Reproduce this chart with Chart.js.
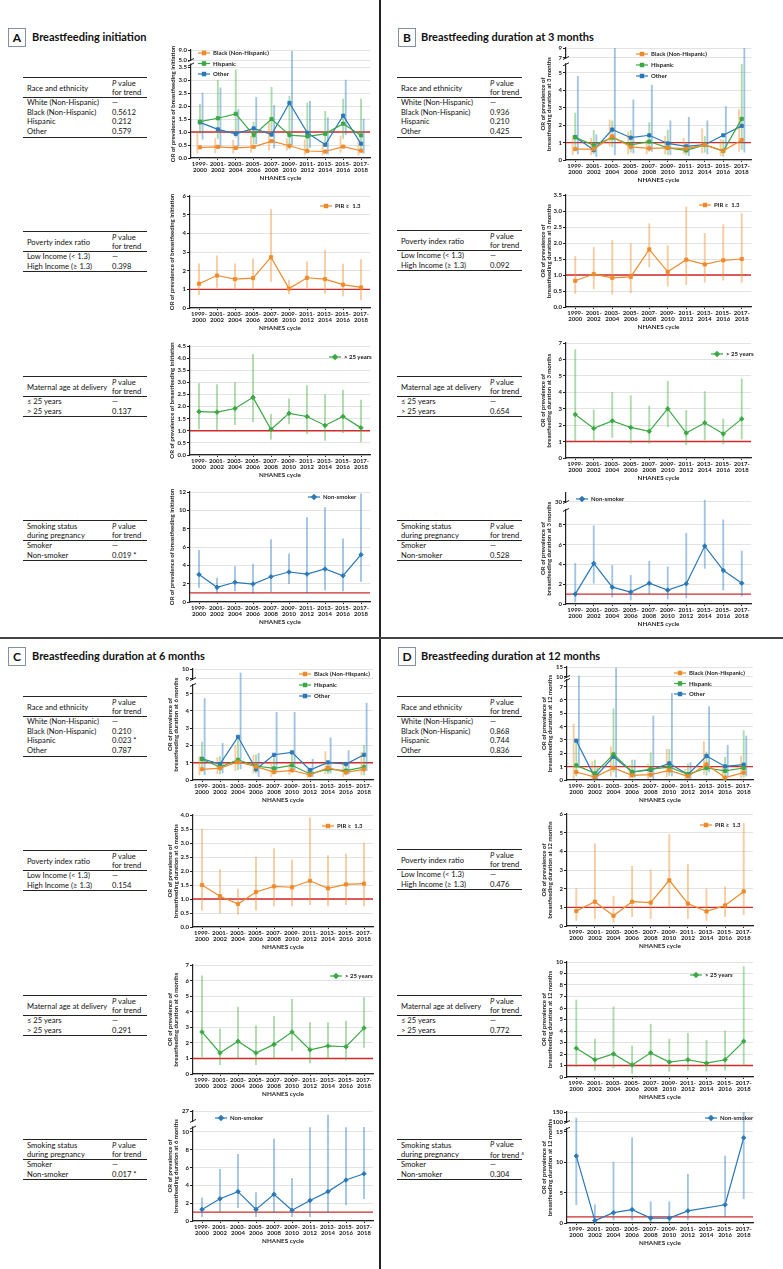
<!DOCTYPE html>
<html>
<head>
<meta charset="utf-8">
<script src="https://cdn.jsdelivr.net/npm/chart.js@4.4.1/dist/chart.umd.min.js"></script>
<style>
body{margin:0;background:#fff;width:783px;height:1269px;position:relative;overflow:hidden;font-family:Lato,"Open Sans",sans-serif;color:#111}
canvas{position:absolute}
.box{position:absolute;width:16px;height:17px;border:1.5px solid #8391a8;font-weight:bold;font-size:12px;line-height:17px;text-align:center}
.ttl{position:absolute;font-weight:bold;font-size:11px;line-height:14px;white-space:nowrap}
.vline{position:absolute;left:379px;top:0;width:2px;height:1269px;background:#222}
.hline{position:absolute;left:0;top:637px;width:783px;height:2px;background:#444}
.tbl{position:absolute;border-top:1.5px solid #222;border-bottom:1.5px solid #222;font-size:7.6px;line-height:9.7px;white-space:nowrap}
.hd{position:relative;height:19px;border-bottom:1px solid #222}
.hd div{position:absolute;top:50%;transform:translateY(-50%);line-height:9px}
.rw{position:relative;height:9.7px}
.rw span{position:absolute;top:0}
</style>
</head>
<body>
<div class="vline"></div>
<div class="hline"></div>
<script>
const cycles = [['1999-','2000'],['2001-','2002'],['2003-','2004'],['2005-','2006'],['2007-','2008'],
  ['2009-','2010'],['2011-','2012'],['2013-','2014'],['2015-','2016'],['2017-','2018']];

// tables
const raceRows = ['White (Non-Hispanic)','Black (Non-Hispanic)','Hispanic','Other'];
const pirRows = ['Low Income (< 1.3)','High Income (≥ 1.3)'];
const ageRows = ['≤ 25 years','> 25 years'];
const smokeRows = ['Smoker','Non-smoker'];
const aRaceP = ['—','0.5612','0.212','0.579'], aPirP = ['—','0.398'], aAgeP = ['—','0.137'], aSmokeP = ['—','0.019 *'];
const bRaceP = ['—','0.936','0.210','0.425'], bPirP = ['—','0.092'], bAgeP = ['—','0.654'], bSmokeP = ['—','0.528'];
const cRaceP = ['—','0.210','0.023 *','0.787'], cPirP = ['—','0.154'], cAgeP = ['—','0.291'], cSmokeP = ['—','0.017 *'];
const dRaceP = ['—','0.868','0.744','0.836'], dPirP = ['—','0.476'], dAgeP = ['—','0.772'], dSmokeP = ['—','0.304'];

// A: breastfeeding initiation
const aBlack = [0.41,0.43,0.39,0.43,0.65,0.47,0.27,0.25,0.44,0.28];
const aBlackCI = [[0.18,0.95],[0.2,0.75],[0.2,0.68],[0.22,0.82],[0.3,1.4],[0.3,0.75],[0.12,0.7],[0.12,0.52],[0.22,0.85],[0.1,0.75]];
const aHisp = [1.40,1.53,1.70,0.88,1.50,0.88,0.83,0.93,1.32,0.87];
const aHispCI = [[0.95,2.07],[0.75,3.0],[0.8,3.4],[0.55,1.38],[0.85,2.72],[0.35,2.38],[0.35,2.12],[0.45,1.8],[0.75,2.27],[0.35,2.27]];
const aOther = [1.37,1.10,0.93,1.14,0.90,2.12,0.97,0.51,1.63,0.55];
const aOtherCI = [[0.72,2.5],[0.45,2.7],[0.45,1.87],[0.55,2.33],[0.38,2.02],[0.5,8.5],[0.4,2.18],[0.15,1.55],[0.9,3.0],[0.18,1.5]];
const aPir = [1.30,1.74,1.55,1.60,2.72,1.04,1.62,1.55,1.25,1.10];
const aPirCI = [[0.72,2.36],[1.1,2.79],[1.0,2.36],[1.0,2.63],[1.42,5.27],[0.75,1.5],[1.1,2.47],[0.78,3.1],[0.65,2.35],[0.45,2.6]];
const aAge = [1.79,1.77,1.92,2.38,1.05,1.72,1.59,1.22,1.59,1.12];
const aAgeCI = [[1.08,2.95],[1.05,2.91],[1.25,3.0],[1.37,4.16],[0.65,1.68],[1.28,2.32],[0.88,2.87],[0.6,2.48],[0.92,2.68],[0.55,2.27]];
const aSmk = [3.0,1.6,2.15,1.96,2.76,3.27,3.05,3.6,2.87,5.16];
const aSmkCI = [[1.6,5.65],[0.95,2.6],[1.2,3.87],[0.9,4.1],[1.1,6.8],[2.0,5.25],[1.0,9.2],[1.3,10.3],[1.2,6.9],[2.25,11.8]];

// B: duration at 3 months
const bBlack = [0.63,0.63,1.35,0.75,0.67,0.7,0.65,0.87,0.53,1.15];
const bBlackCI = [[0.3,1.4],[0.3,1.25],[0.8,2.3],[0.35,1.6],[0.35,1.15],[0.35,1.35],[0.35,1.25],[0.4,1.8],[0.25,1.2],[0.5,2.9]];
const bHisp = [1.3,0.85,1.28,0.87,1.06,0.7,0.55,0.87,0.52,2.36];
const bHispCI = [[0.6,2.7],[0.35,1.7],[0.75,2.25],[0.45,1.7],[0.5,2.15],[0.3,1.72],[0.3,1.0],[0.45,1.35],[0.2,1.15],[0.6,5.5]];
const bOther = [1.32,0.57,1.75,1.28,1.42,0.95,0.78,0.88,1.42,1.96];
const bOtherCI = [[0.35,4.8],[0.2,1.45],[0.3,9],[0.4,3.45],[0.5,4.3],[0.3,2.25],[0.25,2.45],[0.35,2.25],[0.6,3.07],[0.45,9]];
const bPir = [0.82,1.03,0.91,0.94,1.8,1.1,1.48,1.33,1.46,1.5];
const bPirCI = [[0.42,1.58],[0.57,1.86],[0.4,2.08],[0.44,1.98],[1.25,2.6],[0.65,1.92],[0.7,3.13],[0.77,2.3],[0.84,2.57],[0.77,2.92]];
const bAge = [2.65,1.8,2.26,1.86,1.62,3.0,1.52,2.14,1.47,2.38];
const bAgeCI = [[1.05,6.6],[1.0,2.93],[1.25,4.0],[0.9,3.8],[0.9,3.16],[1.9,4.67],[0.8,2.9],[1.1,4.04],[0.85,2.38],[1.15,4.83]];
const bSmk = [1.0,4.1,1.7,1.2,2.1,1.4,2.05,5.85,3.4,2.1];
const bSmkCI = [[0.2,4.1],[2.1,7.9],[0.7,3.9],[0.4,2.9],[1.0,4.3],[0.5,3.75],[0.6,7.15],[3.6,30.2],[1.4,8.5],[0.8,5.35]];

// C: duration at 6 months
const cBlack = [0.62,0.69,1.04,0.77,0.46,0.56,0.29,0.71,0.44,0.62];
const cBlackCI = [[0.3,1.35],[0.35,1.3],[0.55,2.0],[0.4,1.45],[0.2,1.0],[0.3,0.95],[0.15,0.6],[0.35,1.65],[0.2,0.95],[0.3,1.6]];
const cHisp = [1.2,0.75,1.17,0.81,0.67,0.85,0.35,0.63,0.54,0.75];
const cHispCI = [[0.55,2.2],[0.35,1.35],[0.6,2.4],[0.4,1.45],[0.35,1.4],[0.45,1.6],[0.2,0.65],[0.35,1.1],[0.3,0.95],[0.3,2.0]];
const cOther = [1.23,0.92,2.5,0.62,1.46,1.6,0.58,1.02,0.92,1.46];
const cOtherCI = [[0.3,4.72],[0.4,2.12],[0.65,9.6],[0.2,1.55],[0.5,3.92],[0.6,3.92],[0.2,1.2],[0.4,2.45],[0.35,1.7],[0.55,4.45]];
const cPir = [1.5,1.1,0.82,1.25,1.45,1.42,1.65,1.38,1.52,1.55];
const cPirCI = [[0.6,3.5],[0.5,2.05],[0.45,1.35],[0.6,2.5],[0.75,2.8],[0.75,2.4],[0.8,3.9],[0.75,2.55],[0.8,2.6],[0.75,3.0]];
const cAge = [2.7,1.35,2.1,1.35,1.9,2.7,1.55,1.8,1.75,2.95];
const cAgeCI = [[1.1,6.3],[0.6,2.9],[1.0,4.3],[0.6,3.1],[1.0,3.7],[1.5,4.8],[0.7,3.3],[1.0,3.3],[0.9,3.4],[1.7,4.9]];
const cSmk = [1.3,2.5,3.3,1.3,3.0,1.2,2.3,3.3,4.6,5.3];
const cSmkCI = [[0.5,2.6],[1.0,5.8],[1.5,7.5],[0.5,3.2],[1.0,9.2],[0.5,4.8],[0.5,10.5],[1.0,26.6],[1.8,10.5],[2.5,10.8]];

// D: duration at 12 months
const dBlack = [0.6,0.22,0.9,0.35,0.4,0.72,0.28,1.17,0.18,0.55];
const dBlackCI = [[0.1,4.2],[0.05,1.4],[0.3,2.5],[0.1,1.1],[0.1,1.2],[0.2,2.3],[0.1,0.8],[0.45,2.9],[0.05,1.0],[0.15,1.8]];
const dHisp = [1.1,0.5,1.92,0.6,0.82,0.97,0.42,0.9,0.68,0.9];
const dHispCI = [[0.3,3.0],[0.15,1.5],[0.6,5.35],[0.2,1.5],[0.2,2.05],[0.35,2.3],[0.15,1.2],[0.35,2.1],[0.2,1.7],[0.2,3.7]];
const dOther = [2.95,0.2,1.75,0.6,0.75,1.25,0.42,1.8,1.02,1.15];
const dOtherCI = [[0.9,10.5],[0.05,0.9],[0.2,14.5],[0.2,1.5],[0.1,4.8],[0.3,6.5],[0.1,1.3],[0.6,5.5],[0.3,2.6],[0.3,3.3]];
const dPir = [0.8,1.3,0.55,1.3,1.25,2.45,1.2,0.78,1.1,1.85];
const dPirCI = [[0.3,2.0],[0.4,4.4],[0.2,1.6],[0.5,3.2],[0.4,3.0],[1.0,4.9],[0.4,3.3],[0.3,2.0],[0.5,2.1],[0.6,5.5]];
const dAge = [2.5,1.5,2.0,1.05,2.1,1.3,1.5,1.2,1.5,3.1];
const dAgeCI = [[0.9,6.7],[0.6,3.3],[0.8,6.1],[0.3,2.7],[0.9,4.6],[0.5,3.3],[0.6,3.8],[0.5,3.2],[0.6,4.0],[1.0,9.6]];
const dSmk = [11,0.4,1.7,2.2,0.8,0.8,2.0,null,3.0,14];
const dSmkCI = [[3,120],[0.1,3],[0.5,10],[0.5,14],[0.2,3.5],[0.2,3.5],[0.5,8],null,[1.0,11],[4,150]];

// y ticks
const steps = (a, b, s) => { const r = []; for (let v = a; v <= b + 1e-9; v += s) r.push(+v.toFixed(2)); return r; };

const FF = 'Lato, "Open Sans", sans-serif';
const ORANGE = '#ef8a2a', GREEN = '#3aa843', BLUE = '#2a78b8';
const ORANGE_E = 'rgba(240,140,45,0.45)', GREEN_E = 'rgba(70,175,70,0.45)', BLUE_E = 'rgba(45,125,190,0.45)';

const specs = new WeakMap();

class BrokenScale extends Chart.LinearScale {
  buildTicks() {
    const sp = specs.get(this.chart.canvas);
    this.start = this.min; this.end = this.max;
    return sp.ticks.map(v => ({ value: v }));
  }
  getPixelForValue(v) {
    const b = specs.get(this.chart.canvas).brk;
    let f;
    if (!b) f = (v - this.min) / (this.max - this.min);
    else if (v <= b.lo) f = (v - this.min) / (b.lo - this.min) * b.frac;
    else if (v >= b.hi) f = b.frac + b.gap + (v - b.hi) / (this.max - b.hi) * (1 - b.frac - b.gap);
    else f = b.frac + (v - b.lo) / (b.hi - b.lo) * b.gap;
    return this.getPixelForDecimal(f);
  }
  getValueForPixel(p) {
    return this.min + this.getDecimalForPixel(p) * (this.max - this.min);
  }
}
BrokenScale.id = 'broken';
BrokenScale.defaults = {};
Chart.register(BrokenScale);

const refLine = {
  id: 'refLine',
  beforeDatasetsDraw(chart) {
    const { ctx, chartArea: a } = chart;
    const y = chart.scales.y.getPixelForValue(1);
    ctx.save();
    ctx.strokeStyle = '#d22a2a'; ctx.lineWidth = 1.4;
    ctx.beginPath(); ctx.moveTo(a.left, y); ctx.lineTo(a.right, y); ctx.stroke();
    ctx.restore();
  }
};

const axisBreak = {
  id: 'axisBreak',
  afterDraw(chart) {
    const sp = specs.get(chart.canvas);
    if (!sp.brk) return;
    const { ctx } = chart;
    const x = chart.chartArea.left;
    const p1 = chart.scales.y.getPixelForValue(sp.brk.lo);
    const p2 = chart.scales.y.getPixelForValue(sp.brk.hi);
    ctx.save();
    ctx.fillStyle = '#fff';
    ctx.fillRect(x - 2, p2 + 1, 4, p1 - p2 - 2);
    ctx.strokeStyle = '#222'; ctx.lineWidth = 1;
    [p1, p2].forEach(p => {
      ctx.beginPath(); ctx.moveTo(x - 3, p + 1.5); ctx.lineTo(x + 3, p - 1.5); ctx.stroke();
    });
    ctx.restore();
  }
};

const innerLegend = {
  id: 'innerLegend',
  afterDraw(chart) {
    const sp = specs.get(chart.canvas);
    const { ctx } = chart;
    let x = sp.leg[0] - sp.cx, y = sp.leg[1] - sp.cy;
    sp.series.forEach(s => {
      ctx.save();
      ctx.strokeStyle = s.color; ctx.fillStyle = s.color; ctx.lineWidth = 1.2;
      ctx.beginPath(); ctx.moveTo(x, y); ctx.lineTo(x + 12, y); ctx.stroke();
      Chart.helpers.drawPoint(ctx, { pointStyle: s.style, radius: 2.3, borderWidth: 0.8, rotation: 0 }, x + 6, y);
      ctx.fillStyle = '#222'; ctx.font = 'bold 6px ' + FF; ctx.textBaseline = 'middle';
      ctx.fillText(s.label, x + 15, y + 0.5);
      ctx.restore();
      y += sp.legDy || 11;
    });
  }
};

function makeChart(c) {
  const yW = Array.isArray(c.yTitle) ? 26 : 21;
  const padT = 6, padR = 10, xH = 24;
  const cx = c.l - yW, cy = c.t - padT;
  const w = c.r - c.l + yW + padR, h = c.b - c.t + padT + xH;
  const cv = document.createElement('canvas');
  cv.width = w; cv.height = h;
  cv.style.left = cx + 'px'; cv.style.top = cy + 'px';
  cv.style.width = w + 'px'; cv.style.height = h + 'px';
  document.body.appendChild(cv);
  specs.set(cv, Object.assign({}, c, { cx, cy }));
  const multi = c.series.length > 1;
  const datasets = [];
  c.series.forEach(s => datasets.push({
    type: 'line', label: s.label, data: s.data, borderColor: s.color, backgroundColor: s.color,
    borderWidth: 1.2, pointStyle: s.style, pointRadius: 2.3, pointBorderWidth: 0.8,
    pointBackgroundColor: s.color, spanGaps: true, order: 1
  }));
  c.series.forEach(s => datasets.push({
    type: 'bar', label: s.label + ' CI', data: s.ci, backgroundColor: s.err,
    barThickness: multi ? 2.6 : 1.2, maxBarThickness: 1.2, borderWidth: 0, order: 2
  }));
  new Chart(cv, {
    type: 'line',
    data: { labels: cycles, datasets },
    plugins: [refLine, axisBreak, innerLegend],
    options: {
      responsive: false, animation: false, devicePixelRatio: 1,
      layout: { padding: { left: 0, top: padT, right: padR, bottom: 0 } },
      plugins: { legend: { display: false }, tooltip: { enabled: false } },
      scales: {
        x: {
          type: 'category', offset: true,
          grid: { display: true, drawOnChartArea: false, offset: false, tickLength: 2, tickColor: '#222', tickWidth: 1 },
          border: { color: '#222', width: 1.2 },
          ticks: { font: { size: 6, weight: 'bold', family: FF, lineHeight: 1.0 }, color: '#222', padding: 1, maxRotation: 0, autoSkip: false },
          title: { display: true, text: 'NHANES cycle', font: { size: 6.3, weight: 'bold', family: FF }, color: '#222', padding: { top: 1, bottom: 0 } },
          afterFit(s) { s.height = xH; }
        },
        y: {
          type: 'broken', min: 0, max: c.ticks[c.ticks.length - 1],
          grid: { color: '#dcdcdc', lineWidth: 0.8, tickLength: 3, tickColor: '#222', tickWidth: 1 },
          border: { color: '#222', width: 1.2 },
          ticks: { font: { size: 6, weight: 'bold', family: FF }, color: '#222', padding: 1, callback: v => v.toFixed(c.dec) },
          title: { display: true, text: c.yTitle, font: { size: 6, weight: 'bold', family: FF, lineHeight: 1.0 }, color: '#222', padding: { top: 0, bottom: 0 } },
          afterFit(s) { s.width = yW; }
        }
      }
    }
  });
}

function makeTable(x, y, w, pcol, head, rows, ps, mark) {
  const d = document.createElement('div');
  d.className = 'tbl';
  d.style.left = x + 'px'; d.style.top = y + 'px'; d.style.width = w + 'px';
  let html = '<div class="hd"><div style="left:4px">' + [].concat(head).join('<br>') + '</div>' +
    '<div style="left:' + pcol + 'px"><i>P</i> value<br>for trend' + (mark || '') + '</div></div>';
  rows.forEach((r, i) => {
    html += '<div class="rw"><span style="left:4px">' + r + '</span><span style="left:' + pcol + 'px">' + ps[i] + '</span></div>';
  });
  d.innerHTML = html;
  document.body.appendChild(d);
}

function makeTitle(bx, by, letter, tx, text) {
  const b = document.createElement('div');
  b.className = 'box'; b.style.left = bx + 'px'; b.style.top = by + 'px'; b.textContent = letter;
  document.body.appendChild(b);
  const t = document.createElement('div');
  t.className = 'ttl'; t.style.left = tx + 'px'; t.style.top = (by + 2) + 'px'; t.textContent = text;
  document.body.appendChild(t);
}

const raceS = (k, kci, h, hci, o, oci) => [
  { label: 'Black (Non-Hispanic)', data: k, ci: kci, color: ORANGE, err: ORANGE_E, style: 'rect' },
  { label: 'Hispanic', data: h, ci: hci, color: GREEN, err: GREEN_E, style: 'rect' },
  { label: 'Other', data: o, ci: oci, color: BLUE, err: BLUE_E, style: 'rect' }
];
const pirS = (d, ci) => [{ label: 'PIR ≥  1.3', data: d, ci, color: ORANGE, err: ORANGE_E, style: 'rect' }];
const ageS = (d, ci) => [{ label: '> 25 years', data: d, ci, color: GREEN, err: GREEN_E, style: 'rectRot' }];
const smkS = (d, ci) => [{ label: 'Non-smoker', data: d, ci, color: BLUE, err: BLUE_E, style: 'rectRot' }];

// ---- Panel A
makeTitle(8, 28, 'A', 32, 'Breastfeeding initiation');
const yA = 'OR of prevalence of breastfeeding initiation';
makeTable(23, 77, 124, 89, 'Race and ethnicity', raceRows, aRaceP);
makeTable(23, 231, 124, 89, 'Poverty index ratio', pirRows, aPirP);
makeTable(23, 376, 124, 89, 'Maternal age at delivery', ageRows, aAgeP);
makeTable(23, 520, 124, 89, ['Smoking status', 'during pregnancy'], smokeRows, aSmokeP);
makeChart({ l: 191, r: 370, t: 50, b: 158, yTitle: yA, dec: 1, ticks: [...steps(0, 3.5, 0.5), 5, 9],
  brk: { lo: 3.6, hi: 5, frac: 0.866, gap: 0.041 }, leg: [198, 53], legDy: 10.5,
  series: raceS(aBlack, aBlackCI, aHisp, aHispCI, aOther, aOtherCI) });
makeChart({ l: 190, r: 370, t: 196, b: 308, yTitle: yA, dec: 0, ticks: steps(0, 6, 1), leg: [320, 206], series: pirS(aPir, aPirCI) });
makeChart({ l: 190, r: 370, t: 346, b: 455, yTitle: yA, dec: 1, ticks: steps(0, 4.5, 0.5), leg: [329, 357], series: ageS(aAge, aAgeCI) });
makeChart({ l: 190, r: 370, t: 492, b: 602, yTitle: yA, dec: 0, ticks: steps(0, 12, 1), leg: [308, 497], series: smkS(aSmk, aSmkCI) });

// ---- Panel B
makeTitle(398, 28, 'B', 421, 'Breastfeeding duration at 3 months');
const yB = ['OR of prevalence of', 'breastfeeding duration at 3 months'];
makeTable(397, 77, 125, 93, 'Race and ethnicity', raceRows, bRaceP);
makeTable(397, 230, 125, 93, 'Poverty index ratio', pirRows, bPirP);
makeTable(397, 376, 125, 93, 'Maternal age at delivery', ageRows, bAgeP);
makeTable(397, 520, 125, 93, ['Smoking status', 'during pregnancy'], smokeRows, bSmokeP);
makeChart({ l: 566, r: 751, t: 48, b: 160, yTitle: yB, dec: 0, ticks: [...steps(0, 5, 1), 7, 9],
  brk: { lo: 5.5, hi: 7, frac: 0.855, gap: 0.056 }, leg: [636, 54],
  series: raceS(bBlack, bBlackCI, bHisp, bHispCI, bOther, bOtherCI) });
makeChart({ l: 566, r: 751, t: 195, b: 307, yTitle: yB, dec: 1, ticks: steps(0, 3.5, 0.5), leg: [699, 205], series: pirS(bPir, bPirCI) });
makeChart({ l: 566, r: 751, t: 343, b: 458, yTitle: yB, dec: 0, ticks: steps(0, 7, 1), leg: [711, 354], series: ageS(bAge, bAgeCI) });
makeChart({ l: 566, r: 751, t: 493, b: 604, yTitle: yB, dec: 0, ticks: [...steps(0, 9, 1), 30, 31],
  brk: { lo: 9.5, hi: 30, frac: 0.847, gap: 0.072 }, leg: [576, 499], series: smkS(bSmk, bSmkCI) });

// ---- Panel C
makeTitle(8, 647, 'C', 32, 'Breastfeeding duration at 6 months');
const yC = ['OR of prevalence of', 'breastfeeding duration at 6 months'];
makeTable(23, 696, 124, 89, 'Race and ethnicity', raceRows, cRaceP);
makeTable(23, 850, 124, 89, 'Poverty index ratio', pirRows, cPirP);
makeTable(23, 995, 124, 89, 'Maternal age at delivery', ageRows, cAgeP);
makeTable(23, 1139, 124, 89, ['Smoking status', 'during pregnancy'], smokeRows, cSmokeP);
makeChart({ l: 193, r: 373, t: 669, b: 780, yTitle: yC, dec: 0, ticks: [...steps(0, 5, 1), 9, 10],
  brk: { lo: 5.5, hi: 9, frac: 0.856, gap: 0.054 }, leg: [299, 674],
  series: raceS(cBlack, cBlackCI, cHisp, cHispCI, cOther, cOtherCI) });
makeChart({ l: 193, r: 373, t: 815, b: 927, yTitle: yC, dec: 1, ticks: steps(0, 4, 0.5), leg: [322, 826], series: pirS(cPir, cPirCI) });
makeChart({ l: 193, r: 373, t: 965, b: 1074, yTitle: yC, dec: 0, ticks: steps(0, 7, 1), leg: [330, 976], series: ageS(cAge, cAgeCI) });
makeChart({ l: 193, r: 373, t: 1111, b: 1221, yTitle: yC, dec: 0, ticks: [...steps(0, 10, 1), 26, 27],
  brk: { lo: 10.5, hi: 26, frac: 0.85, gap: 0.06 }, leg: [215, 1118], series: smkS(cSmk, cSmkCI) });

// ---- Panel D
makeTitle(398, 647, 'D', 421, 'Breastfeeding duration at 12 months');
const yD = ['OR of prevalence of', 'breastfeeding duration at 12 months'];
makeTable(397, 696, 125, 93, 'Race and ethnicity', raceRows, dRaceP);
makeTable(397, 849, 125, 93, 'Poverty index ratio', pirRows, dPirP);
makeTable(397, 995, 125, 93, 'Maternal age at delivery', ageRows, dAgeP);
makeTable(397, 1139, 125, 93, ['Smoking status', 'during pregnancy'], smokeRows, dSmokeP, ' <sup style="font-size:5px">a</sup>');
makeChart({ l: 567, r: 753, t: 667, b: 780, yTitle: yD, dec: 0, ticks: [...steps(0, 7, 1), 10, 15],
  brk: { lo: 7.5, hi: 10, frac: 0.885, gap: 0.027 }, leg: [674, 673], legDy: 10.5,
  series: raceS(dBlack, dBlackCI, dHisp, dHispCI, dOther, dOtherCI) });
makeChart({ l: 567, r: 753, t: 814, b: 926, yTitle: yD, dec: 0, ticks: steps(0, 6, 1), leg: [700, 825], series: pirS(dPir, dPirCI) });
makeChart({ l: 567, r: 753, t: 962, b: 1077, yTitle: yD, dec: 0, ticks: steps(0, 10, 1), leg: [690, 975], series: ageS(dAge, dAgeCI) });
makeChart({ l: 567, r: 753, t: 1112, b: 1223, yTitle: yD, dec: 0, ticks: [0, 5, 10, 15, 100, 150],
  brk: { lo: 15.5, hi: 100, frac: 0.85, gap: 0.06 }, leg: [705, 1118], series: smkS(dSmk, dSmkCI) });
</script>
</body>
</html>
